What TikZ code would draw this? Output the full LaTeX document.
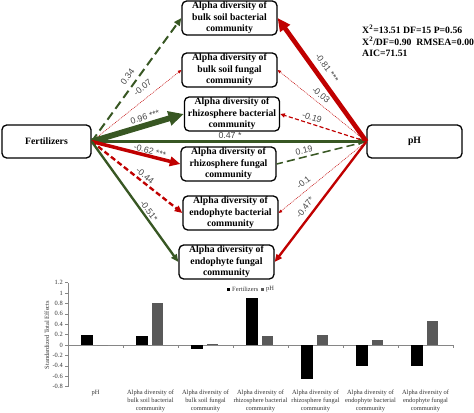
\documentclass[tikz,border=0pt]{standalone}
\usepackage{fontspec}
\setmainfont{Liberation Serif}
\newfontfamily\coeffont{Liberation Sans}
\usepackage{tikz}
\usetikzlibrary{arrows.meta, positioning}
\definecolor{semgreen}{RGB}{56,87,35}
\definecolor{semred}{RGB}{192,0,0}
\definecolor{coefgray}{RGB}{70,70,70}
\definecolor{bargray}{RGB}{89,89,89}
\definecolor{axisgray}{RGB}{134,134,134}

\begin{document}
\begin{tikzpicture}[
  x=0.03cm, y=-0.03cm,
  box/.style={draw=black, line width=1.1pt, rounded corners=4pt, fill=white,
              align=center, font=\fontsize{8.3}{9.8}\selectfont\bfseries,
              inner xsep=3pt, inner ysep=0.5pt, minimum height=1.02cm,
              minimum width=2.85cm},
  coef/.style={font=\coeffont\fontsize{7.5}{9}\selectfont, text=coefgray,
               inner sep=0pt},
  stats/.style={font=\fontsize{8.3}{10.2}\selectfont\bfseries, align=left,
                inner sep=0pt},
  small/.style={font=\fontsize{5.5}{6.8}\selectfont, text=black!80, inner sep=0pt},
  bigtip/.style={-{Triangle[length=13pt, width=12pt]}},
  midtip/.style={-{Triangle[length=9pt, width=8pt]}},
  tip/.style={-{Triangle[length=6.5pt, width=5.5pt]}},
  tinytip/.style={-{Triangle[length=3pt, width=2.6pt]}},
  dots/.style={line width=0.45pt, dash pattern=on 0.8pt off 0.8pt},
]
  \useasboundingbox (0,0) rectangle (474,412);

  % ── Drivers ──
  \node[box, minimum width=2.67cm, minimum height=0.99cm] (fert) at (46.5,141.5) {Fertilizers};
  \node[box, minimum height=0.99cm] (ph) at (414.5,141.5) {pH};

  % ── Alpha diversity boxes ──
  \node[box] (bsb) at (229.5,18) {Alpha diversity of\\bulk soil bacterial\\community};
  \node[box] (bsf) at (229.5,70) {Alpha diversity of\\bulk soil fungal\\community};
  \node[box] (rhb) at (232,114) {Alpha diversity of\\rhizosphere bacterial\\community};
  \node[box] (rhf) at (228.5,164) {Alpha diversity of\\rhizosphere fungal\\community};
  \node[box] (enb) at (230.5,213) {Alpha diversity of\\endophyte bacterial\\community};
  \node[box] (enf) at (226.5,262) {Alpha diversity of\\endophyte fungal\\community};

  % ── Fertilizer paths ──
  \draw[semgreen, line width=1.7pt, dash pattern=on 7.5pt off 4pt, tip] (fert.east) -- (bsb.west);
  \draw[semred, dots, tinytip] (fert.east) -- (bsf.west);
  \draw[semgreen, line width=5pt, bigtip] (fert.east) -- (rhb.west);
  \draw[semgreen, line width=2pt, tip] (fert.east) -- (ph.west);
  \draw[semred, line width=3pt, midtip] (fert.east) -- (rhf.west);
  \draw[semred, line width=2pt, dash pattern=on 4.5pt off 2.5pt, tip] (fert.east) -- (enb.west);
  \draw[semgreen, line width=2pt, tip] (fert.east) -- (enf.west);

  % ── pH paths ──
  \draw[semred, line width=4pt, -{Triangle[length=11pt, width=10pt]}] (ph.west) -- (bsb.east);
  \draw[semred, dots, tinytip] (ph.west) -- (bsf.east);
  \draw[semred, line width=1pt, dash pattern=on 3.5pt off 2pt, -{Triangle[length=4pt, width=3.5pt]}] (ph.west) -- (rhb.east);
  \draw[semgreen, line width=1.3pt, dash pattern=on 7pt off 3.5pt] (ph.west) -- (rhf.east);
  \draw[semred, dots, tinytip] (ph.west) -- (enb.east);
  \draw[semred, line width=2pt, tip] (ph.west) -- (enf.east);

  % ── Path coefficients ──
  \node[coef, rotate=53.6] (c1) at (127.5,76.5) {0.34};
  \node[coef, rotate=38.2] (c2) at (142.5,87.5) {-0.07};
  \node[coef, rotate=17.2] (c3) at (145,117) {0.96 ***};
  \node[coef] (c4) at (230,135.5) {0.47 *};
  \node[coef, rotate=-14] (c5) at (150,151) {-0.62 ***};
  \node[coef, rotate=-38.3] (c6) at (145,175.5) {-0.44};
  \node[coef, rotate=-53.9] (c7) at (149,211) {-0.51*};
  \node[coef, rotate=-53.9] (c8) at (327,68) {-0.81 ***};
  \node[coef, rotate=-38.5] (c9) at (321,95) {-0.03};
  \node[coef, rotate=-18.3] (c10) at (312,117.5) {-0.19};
  \node[coef, rotate=13.9] (c11) at (304,150.5) {0.19};
  \node[coef, rotate=39.4] (c12) at (303.5,182.5) {-0.1};
  \node[coef, rotate=52.3] (c13) at (305,207.5) {-0.47*};

  % ── Fit indices ──
  \node[stats, anchor=north west] (fit) at (362,25) {X\textsuperscript{2}=13.51 DF=15 P=0.56\\X\textsuperscript{2}/DF=0.90\ \ RMSEA=0.00\\AIC=71.51};

  % ── Total effects chart ──
  \draw[axisgray, line width=0.5pt] (68,283) -- (68,387);
  \draw[axisgray, line width=0.5pt] (68,345) -- (453,345);
  \foreach \v/\t in {1.2/1.2, 1/1, 0.8/0.8, 0.6/0.6, 0.4/0.4, 0.2/0.2, 0/0, -0.2/-0.2, -0.4/-0.4, -0.6/-0.6, -0.8/-0.8} {
    \draw[axisgray, line width=0.5pt] (65,{345-52*\v}) -- (68,{345-52*\v});
    \node[small, anchor=east] (tick\t) at (63,{345-52*\v}) {\t};
  }
  \foreach \k in {1,...,7}
    \draw[axisgray, line width=0.5pt] ({68+55*\k},345) -- ({68+55*\k},347.5);
  \foreach \i/\f/\p in {0/0.2/0, 1/0.17/0.81, 2/-0.07/0.02, 3/0.91/0.18, 4/-0.65/0.19, 5/-0.41/0.1, 6/-0.41/0.47} {
    \fill[black] ({68+55*\i+13},345) rectangle ({68+55*\i+25},{345-52*\f});
    \fill[bargray] ({68+55*\i+29},345) rectangle ({68+55*\i+40},{345-52*\p});
  }
  \node[small, rotate=90] (ylab) at (47,335) {Standardized Total Effects};

  % ── Legend ──
  \fill[black] (226.5,287.5) rectangle (229.5,290.5);
  \node[small, anchor=west] (legf) at (232,289) {Fertilizers};
  \fill[bargray] (260.5,287.5) rectangle (263.5,290.5);
  \node[small, anchor=west] (legp) at (266,289) {pH};

  % ── Category labels ──
  \node[small, anchor=north] (cat0) at (95.5,390) {pH};
  \foreach \i/\t in {1/{bulk soil bacterial}, 2/{bulk soil fungal}, 3/{rhizosphere bacterial}, 4/{rhizosphere fungal}, 5/{endophyte bacterial}, 6/{endophyte fungal}}
    \node[small, anchor=north, align=center] (cat\i) at ({95.5+55*\i},390) {Alpha diversity of\\\t\\community};
\end{tikzpicture}
\end{document}
